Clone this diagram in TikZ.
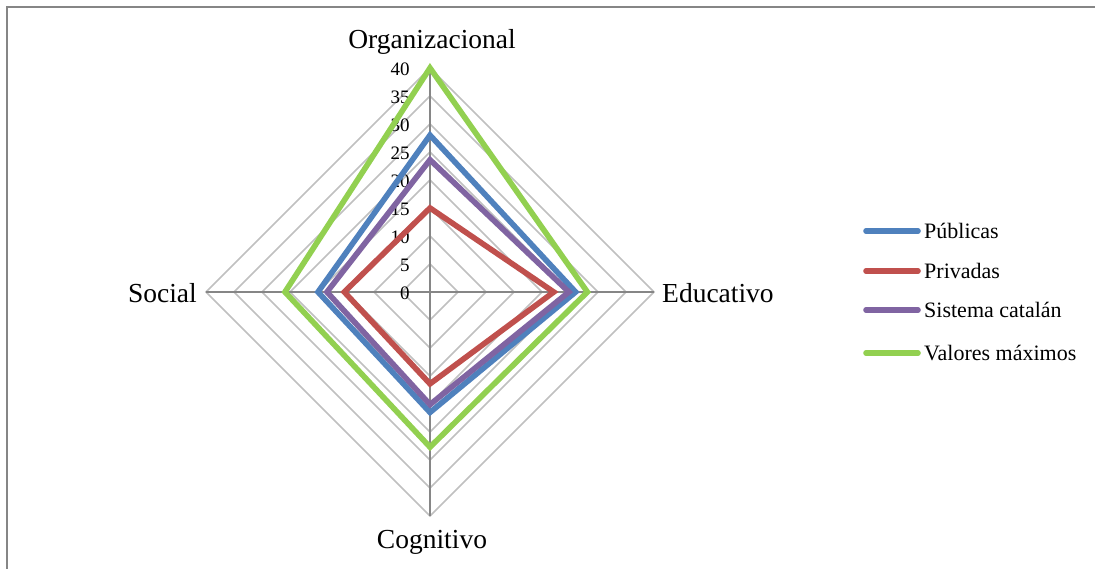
\documentclass[tikz,border=0pt]{standalone}
\usepackage{fontspec}
\setmainfont{Liberation Serif}
\definecolor{cpub}{HTML}{4F81BD}
\definecolor{cpriv}{HTML}{C0504D}
\definecolor{csis}{HTML}{8064A2}
\definecolor{cval}{HTML}{92D050}
\definecolor{cgrid}{HTML}{C0C0C0}
\definecolor{caxis}{HTML}{868686}
\begin{document}
\begin{tikzpicture}[x=1pt,y=-1pt,
  gridline/.style={draw=cgrid,line width=1.5pt},
  axisline/.style={draw=caxis,line width=1.7pt},
  series/.style={line width=5.6pt,line join=miter},
  legline/.style={line width=5.6pt,line cap=round},
  catlabel/.style={inner sep=0pt,font=\fontsize{27.5}{32}\selectfont},
  ticklabel/.style={inner sep=0pt,anchor=east,font=\fontsize{19}{21}\selectfont},
  leglabel/.style={inner sep=0pt,anchor=west,font=\fontsize{22}{26}\selectfont}]
\useasboundingbox (0,0) rectangle (1095,569);
\fill[white] (0,0) rectangle (1095,569);
\draw[draw=caxis,line width=1.5pt] (7,569) -- (7,7) -- (1095,7);
\begin{scope}[shift={(430pt,-292pt)},x=5.6pt,y=5.6pt]
  \coordinate (c) at (0,0);
  \foreach \r in {5,10,...,40}{
    \draw[gridline] (0,\r) -- (\r,0) -- (0,-\r) -- (-\r,0) -- cycle;
  }
  \coordinate (tOrg) at (0,40);
  \coordinate (tEdu) at (40,0);
  \coordinate (tCog) at (0,-40);
  \coordinate (tSoc) at (-40,0);
  \draw[axisline] (tOrg) -- (tCog);
  \draw[axisline] (tSoc) -- (tEdu);
  \foreach \v in {0,5,...,40}{
    \node[ticklabel] (tick\v) at (-3.6,\v-0.2) {\v};
  }
  \draw[series,draw=cpub] (0,28) -- (26,0) -- (0,-21.5) -- (-20,0) -- cycle;
  \draw[series,draw=cpriv] (0,15) -- (22.1,0) -- (0,-16.4) -- (-15.3,0) -- cycle;
  \draw[series,draw=csis] (0,23.6) -- (24.8,0) -- (0,-20.1) -- (-18.4,0) -- cycle;
  \draw[series,draw=cval] (0,40) -- (28.1,0) -- (0,-27.7) -- (-25.9,0) -- cycle;
\end{scope}
\node[catlabel] (org) at (432,42) {Organizacional};
\node[catlabel,anchor=east] (soc) at (197,293) {Social};
\node[catlabel,anchor=west] (edu) at (662,293) {Educativo};
\node[catlabel] (cog) at (432,542) {Cognitivo};
\foreach \y/\c/\t [count=\i] in {231/cpub/Públicas,271/cpriv/Privadas,310/csis/Sistema catalán,353/cval/Valores máximos}{
  \coordinate (la\i) at (866,\y);
  \coordinate (lb\i) at (918,\y);
  \draw[legline,draw=\c] (la\i) -- (lb\i);
  \node[leglabel] (lt\i) at (924,\y) {\t};
}
\end{tikzpicture}
\end{document}
